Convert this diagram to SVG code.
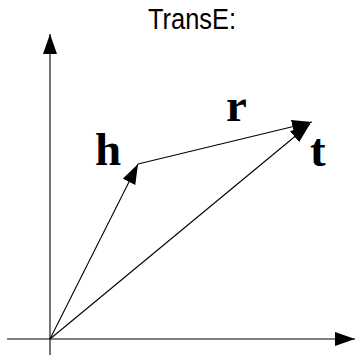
<svg xmlns="http://www.w3.org/2000/svg" width="355" height="355" viewBox="0 0 355 355">
<style>
.ln{stroke:#000;stroke-width:1.1;fill:none;marker-end:url(#ah)}
.lbl{font-family:"Liberation Serif","DejaVu Serif",serif;font-weight:bold;font-size:47px;fill:#000}
.ttl{font-family:"Liberation Sans","DejaVu Sans",sans-serif;font-size:29.5px;fill:#000}
</style>
<defs>
<marker id="ah" markerUnits="userSpaceOnUse" markerWidth="21" markerHeight="15" refX="20" refY="7" orient="auto">
<path d="M0,0 L20,7 L0,14 z" fill="#000"/>
</marker>
</defs>
<rect width="355" height="355" fill="#fff"/>
<text class="ttl" x="148" y="28.5" textLength="88" lengthAdjust="spacingAndGlyphs">TransE:</text>
<g id="connectors">
<line class="ln" x1="50" y1="355" x2="50" y2="34"/>
<line class="ln" x1="7" y1="339" x2="355" y2="339"/>
<line class="ln" x1="50" y1="339" x2="138" y2="164"/>
<line class="ln" x1="138" y1="164" x2="312" y2="122"/>
<line class="ln" x1="50" y1="339" x2="310" y2="124"/>
</g>
<g id="h"><text class="lbl" x="95" y="165">h</text></g>
<g id="r"><text class="lbl" x="226" y="121">r</text></g>
<g id="t"><text class="lbl" x="310" y="166">t</text></g>
</svg>
